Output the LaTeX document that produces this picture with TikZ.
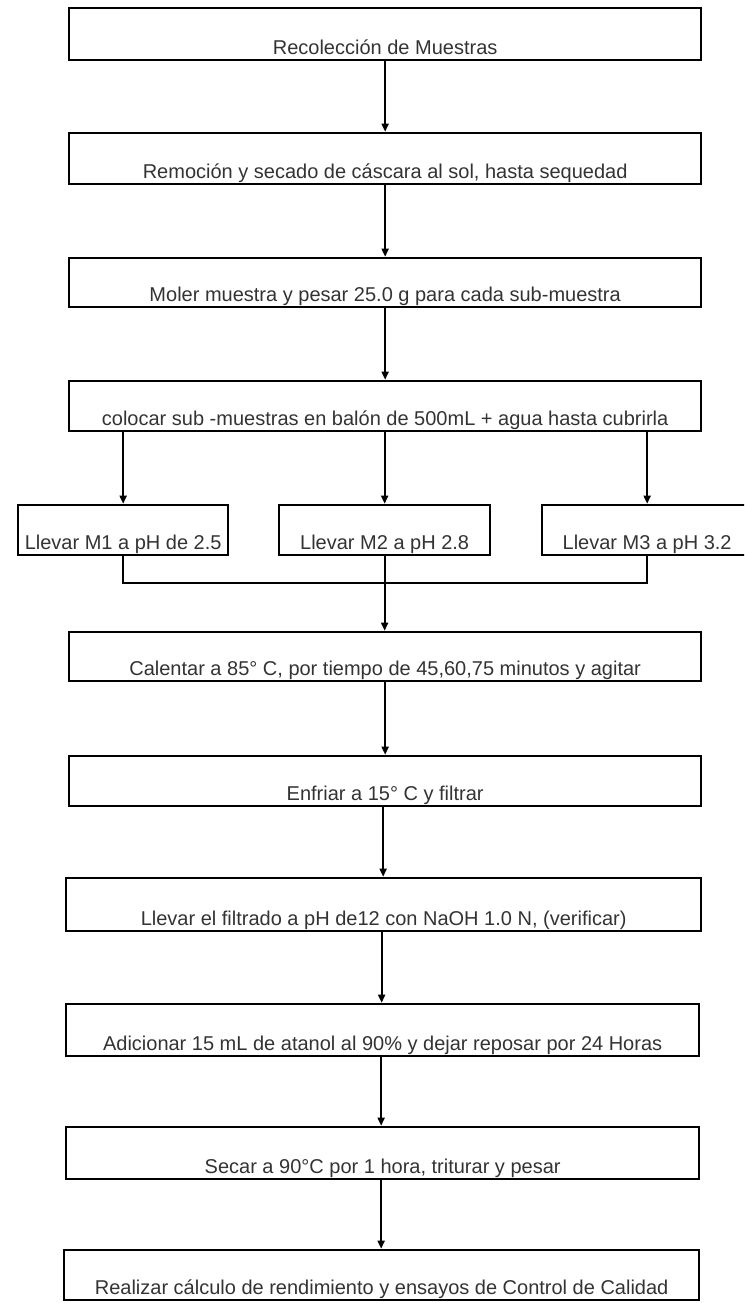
\documentclass[tikz,border=0pt]{standalone}
\usepackage{fontspec}
\setmainfont{Liberation Sans}
\usetikzlibrary{arrows.meta}
\begin{document}
\begin{tikzpicture}[x=1pt,y=-1pt,
  box/.style={draw=black, line width=2.3pt, rectangle, inner xsep=0pt, inner ysep=0pt,
    anchor=south west, text depth=5pt, text=black!80,
    font=\fontsize{20}{24}\selectfont},
  arr/.style={draw=black, line width=1.8pt, -{Triangle[length=8pt,width=7pt]}},
  ln/.style={draw=black, line width=1.8pt}]
\useasboundingbox (0,0) rectangle (744,1303);
\begin{scope}
\clip (0,0) rectangle (744,1303);
% boxes: anchored at (x1,y2), width, height
\node[box, minimum width=632pt, minimum height=52pt, text height=47pt] (b1) at (68,61) {Recolección de Muestras};
\node[box, minimum width=632pt, minimum height=51pt, text height=46pt] (b2) at (68,185) {Remoción y secado de cáscara al sol, hasta sequedad};
\node[box, minimum width=632pt, minimum height=49pt, text height=44pt] (b3) at (68,308) {Moler muestra y pesar 25.0 g para cada sub-muestra};
\node[box, minimum width=632pt, minimum height=50pt, text height=45pt] (b4) at (68,432) {colocar sub -muestras en balón de 500mL + agua hasta cubrirla};
\node[box, minimum width=210pt, minimum height=50pt, text height=45pt] (m1) at (17,556) {Llevar M1 a pH de 2.5};
\node[box, minimum width=211pt, minimum height=50pt, text height=45pt] (m2) at (278,556) {Llevar M2 a pH 2.8};
\node[box, minimum width=210pt, minimum height=50pt, text height=45pt] (m3) at (541,556) {Llevar M3 a pH 3.2};
\node[box, minimum width=632pt, minimum height=49pt, text height=44pt] (b5) at (68,682) {Calentar a 85° C, por tiempo de 45,60,75 minutos y agitar};
\node[box, minimum width=632pt, minimum height=50pt, text height=45pt] (b6) at (68,807) {Enfriar a 15° C y filtrar};
\node[box, minimum width=635pt, minimum height=53pt, text height=48pt] (b7) at (65,932) {Llevar el filtrado a pH de12 con NaOH 1.0 N, (verificar)};
\node[box, minimum width=633pt, minimum height=52pt, text height=47pt] (b8) at (65,1057) {Adicionar 15 mL de atanol al 90\% y dejar reposar por 24 Horas};
\node[box, minimum width=633pt, minimum height=52pt, text height=47pt] (b9) at (65,1180) {Secar a 90°C por 1 hora, triturar y pesar};
\node[box, minimum width=635pt, minimum height=50pt, text height=45pt] (b10) at (63,1301) {Realizar cálculo de rendimiento y ensayos de Control de Calidad};
\end{scope}
% connectors
\draw[arr] (b1.south) -- (b2.north);
\draw[arr] (b2.south) -- (b3.north);
\draw[arr] (b3.south) -- (b4.north);
\draw[arr] (m1.north |- b4.south) -- (m1.north);
\draw[arr] (m2.north |- b4.south) -- (m2.north);
\draw[arr] (m3.north |- b4.south) -- (m3.north);
\coordinate (j) at (383,583);
\draw[ln] (m1.south) |- (j) -| (m3.south);
\draw[arr] (m2.south) -- (m2.south |- b5.north);
\draw[arr] (b5.south) -- (b6.north);
\draw[arr] ([xshift=-2pt]b6.south) -- ([xshift=-2pt]b6.south |- b7.north);
\draw[arr] ([xshift=-2pt]b7.south) -- ([xshift=-2pt]b7.south |- b8.north);
\draw[arr] ([xshift=-1.5pt]b8.south) -- ([xshift=-1.5pt]b8.south |- b9.north);
\draw[arr] ([xshift=-1.5pt]b9.south) -- ([xshift=-1.5pt]b9.south |- b10.north);
\end{tikzpicture}
\end{document}
